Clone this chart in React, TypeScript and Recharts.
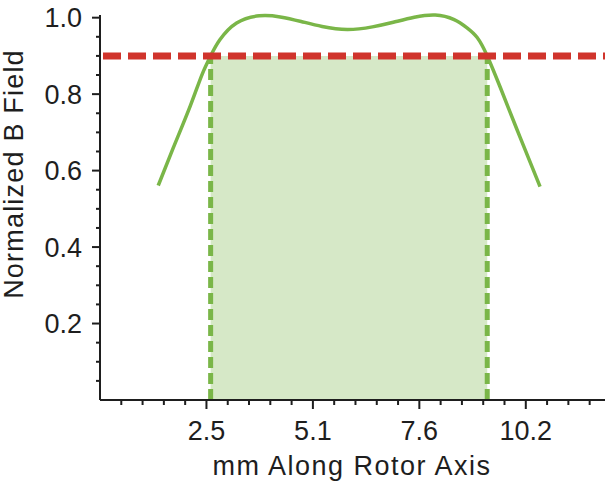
import React from "react"
import { LineChart, Line, XAxis, YAxis, ReferenceLine, ReferenceArea } from "recharts"

// field profile along the rotor (mm, normalized)
const positionMm = [1.39, 1.75, 2.15, 2.43, 2.64, 2.86, 3.26, 3.8, 4.3, 4.8, 5.3, 5.9, 6.5, 7.0, 7.5, 8.0, 8.45, 8.75, 9.0, 9.24, 9.55, 10.02, 10.5]
const fieldValues = [0.561, 0.66, 0.768, 0.85, 0.9, 0.942, 0.986, 1.005, 1.002, 0.99, 0.977, 0.969, 0.976, 0.988, 1.001, 1.007, 0.995, 0.974, 0.948, 0.9, 0.818, 0.688, 0.558]

const threshold = 0.9
const bandStart = 2.64
const bandEnd = 9.24

// 0.1 inch steps shown in mm
const xMajorTicks = [2.54, 5.08, 7.62, 10.16]
const xTicks = [0.508, 1.016, 1.524, 2.032, 2.54, 3.048, 3.556, 4.064, 4.572, 5.08, 5.588, 6.096, 6.604, 7.112, 7.62, 8.128, 8.636, 9.144, 9.652, 10.16, 10.668, 11.176, 11.684]
const yMajorTicks = [0.2, 0.4, 0.6, 0.8, 1.0]
const yTicks = [0.05, 0.1, 0.15, 0.2, 0.25, 0.3, 0.35, 0.4, 0.45, 0.5, 0.55, 0.6, 0.65, 0.7, 0.75, 0.8, 0.85, 0.9, 0.95, 1.0]

const data = positionMm.map((x, i) => ({ x, b: fieldValues[i] }))

const FONT = '"Liberation Sans", Arial, sans-serif'
const INK = "#1e1e1e"
const GREEN = "#7ab648"

const isMajor = (v: number, list: number[]) => list.some((m) => Math.abs(m - v) < 1e-6)

const XTick = (props: any) => {
  const { x, y, payload } = props
  const major = isMajor(payload.value, xMajorTicks)
  return (
    <g>
      <line x1={x} y1={y} x2={x} y2={y + (major ? 9 : 5)} stroke={INK} strokeWidth={2} />
      {major && (
        <text x={x} y={y + 40} textAnchor="middle" fontSize={27} fontFamily={FONT} fill={INK}>
          {payload.value.toFixed(1)}
        </text>
      )}
    </g>
  )
}

const YTick = (props: any) => {
  const { x, y, payload } = props
  const major = isMajor(payload.value, yMajorTicks)
  return (
    <g>
      <line x1={x - (major ? 8 : 4)} y1={y} x2={x} y2={y} stroke={INK} strokeWidth={2} />
      {major && (
        <text x={x - 18} y={y} dy="0.36em" textAnchor="end" fontSize={27} fontFamily={FONT} fill={INK}>
          {payload.value.toFixed(1)}
        </text>
      )}
    </g>
  )
}

export default function App() {
  return (
    <div style={{ position: "absolute", left: 0, top: 0, width: 605, height: 482, background: "#fff" }}>
      <LineChart width={605} height={482} data={data} margin={{ top: 15, right: 0, left: 0, bottom: 0 }}>
        <XAxis
          dataKey="x"
          type="number"
          domain={[0, 12.05]}
          ticks={xTicks}
          interval={0}
          tickSize={0}
          tickMargin={0}
          tickLine={false}
          tick={<XTick />}
          height={82}
          stroke={INK}
          strokeWidth={2}
          label={{
            content: () => (
              <text x={352} y={475} textAnchor="middle" fontSize={27} letterSpacing={1.5} fontFamily={FONT} fill={INK}>
                mm Along Rotor Axis
              </text>
            ),
          }}
        />
        <YAxis
          type="number"
          domain={[0, 1]}
          ticks={yTicks}
          interval={0}
          tickSize={0}
          tickMargin={0}
          tickLine={false}
          tick={<YTick />}
          width={100}
          stroke={INK}
          strokeWidth={2}
          label={{
            content: () => (
              <text
                x={23}
                y={174}
                transform="rotate(-90 23 174)"
                textAnchor="middle"
                fontSize={27}
                letterSpacing={1.2}
                fontFamily={FONT}
                fill={INK}
              >
                Normalized B Field
              </text>
            ),
          }}
        />
        <ReferenceArea x1={bandStart} x2={bandEnd} y1={0} y2={threshold} fill="#d6e8c7" fillOpacity={1} stroke="none" />
        <ReferenceLine
          segment={[{ x: bandStart, y: 0 }, { x: bandStart, y: threshold }]}
          stroke={GREEN}
          strokeWidth={5}
          strokeDasharray="11 5"
        />
        <ReferenceLine
          segment={[{ x: bandEnd, y: 0 }, { x: bandEnd, y: threshold }]}
          stroke={GREEN}
          strokeWidth={5}
          strokeDasharray="11 5"
        />
        <Line
          type="natural"
          dataKey="b"
          stroke={GREEN}
          strokeWidth={3.5}
          dot={false}
          activeDot={false}
          isAnimationActive={false}
        />
        <ReferenceLine y={threshold} stroke="#d0342c" strokeWidth={7} strokeDasharray="18 7" strokeDashoffset={-3} />
      </LineChart>
    </div>
  )
}
